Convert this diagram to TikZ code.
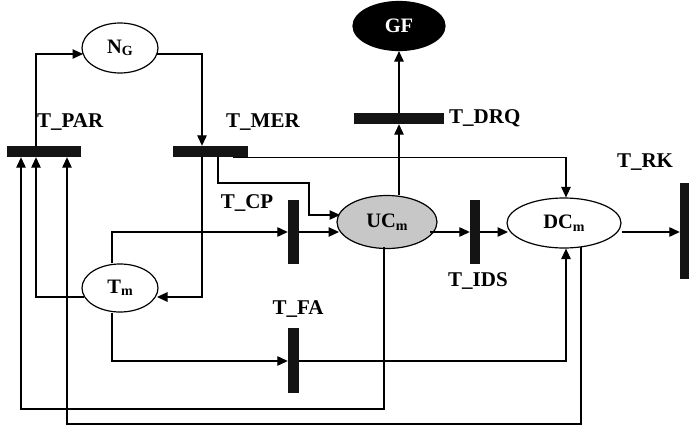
\documentclass[tikz,border=0pt]{standalone}
\usepackage{fontspec}
\setmainfont{Liberation Serif}
\usetikzlibrary{arrows.meta,shapes.geometric}
\newcommand\psub[1]{{\fontsize{14}{14}\selectfont\raisebox{-2.5pt}{#1}}}
\begin{document}
\begin{tikzpicture}[x=1pt,y=-1pt,
  place/.style={draw, ellipse, line width=1.2pt, inner sep=0pt,
    font=\bfseries\fontsize{20.5}{22}\selectfont},
  bar/.style={fill=black!92, draw=none, inner sep=0pt},
  lbl/.style={inner sep=0pt, font=\bfseries\fontsize{21}{23}\selectfont},
  arc/.style={line width=1.15pt, -{Triangle[length=10.5pt,width=9.5pt]}}]
\useasboundingbox (0,0) rectangle (689,426);
% places
\node[place, minimum width=76pt, minimum height=50pt] (NG) at (120,48) {N\psub{G}};
\node[place, minimum width=76pt, minimum height=48pt] (Tm) at (120,288) {T\psub{m}};
\node[place, fill=black!22, minimum width=100pt, minimum height=53pt] (UC) at (387,222) {UC\psub{m}};
\node[place, minimum width=114pt, minimum height=50pt] (DC) at (564,223) {DC\psub{m}};
\node[place, fill=black, text=white, minimum width=92pt, minimum height=49pt] (GF) at (399,26) {GF};
% transitions
\node[bar, minimum width=74pt, minimum height=11pt] (TPAR) at (44,151.5) {};
\node[bar, minimum width=75pt, minimum height=11pt] (TMER) at (210,151.5) {};
\node[bar, minimum width=90pt, minimum height=11pt] (TDRQ) at (399,118.5) {};
\node[bar, minimum width=11pt, minimum height=64pt] (TCP) at (293.5,231.5) {};
\node[bar, minimum width=10pt, minimum height=64pt] (TIDS) at (475,231.5) {};
\node[bar, minimum width=11pt, minimum height=65pt] (TFA) at (293.5,360.5) {};
\node[bar, minimum width=12pt, minimum height=96pt] (TRK) at (686,231) {};
% labels
\node[lbl, anchor=west] (lPAR) at (37,122) {T\_PAR};
\node[lbl, anchor=west] (lMER) at (226,122) {T\_MER};
\node[lbl, anchor=west] (lDRQ) at (449,118) {T\_DRQ};
\node[lbl] (lCP) at (247,203) {T\_CP};
\node[lbl] (lIDS) at (478,281) {T\_IDS};
\node[lbl] (lFA) at (298,309) {T\_FA};
\node[lbl] (lRK) at (645,162) {T\_RK};
% connectors
\draw[arc] (TPAR.north -| 36,0) |- (83,54);
\draw[arc] (157,54) -| (TMER.north -| 202,0);
\draw[arc] (TMER.south -| 202,0) |- (157,297);
\draw[arc] (TMER.south -| 218,0) |- (309,183) |- (340,215);
\draw[arc] (TMER.south -| 233,0) -| (DC.north -| 566,0);
\draw[arc] (Tm.north -| 112,0) |- (TCP.west |- 0,232);
\draw[arc] (TCP.east |- 0,232) -- (339,232);
\draw[arc] (430,232) -- (TIDS.west |- 0,232);
\draw[arc] (TIDS.east |- 0,232) -- (508,232);
\draw[arc] (DC.east |- 0,232) -- (TRK.west |- 0,232);
\draw[arc] (UC.north -| 399,0) -- (TDRQ.south -| 399,0);
\draw[arc] (TDRQ.north -| 399,0) -- (GF.south);
\draw[arc] (Tm.south -| 112,0) |- (TFA.west |- 0,361);
\draw[arc] (TFA.east |- 0,361) -| (DC.south -| 566,0);
\draw[arc] (384,247) |- (21,409) -- (TPAR.south -| 21,0);
\draw[arc] (581,247) |- (67,424) -- (TPAR.south -| 67,0);
\draw[arc] (84,297) -| (TPAR.south -| 36,0);
\end{tikzpicture}
\end{document}
